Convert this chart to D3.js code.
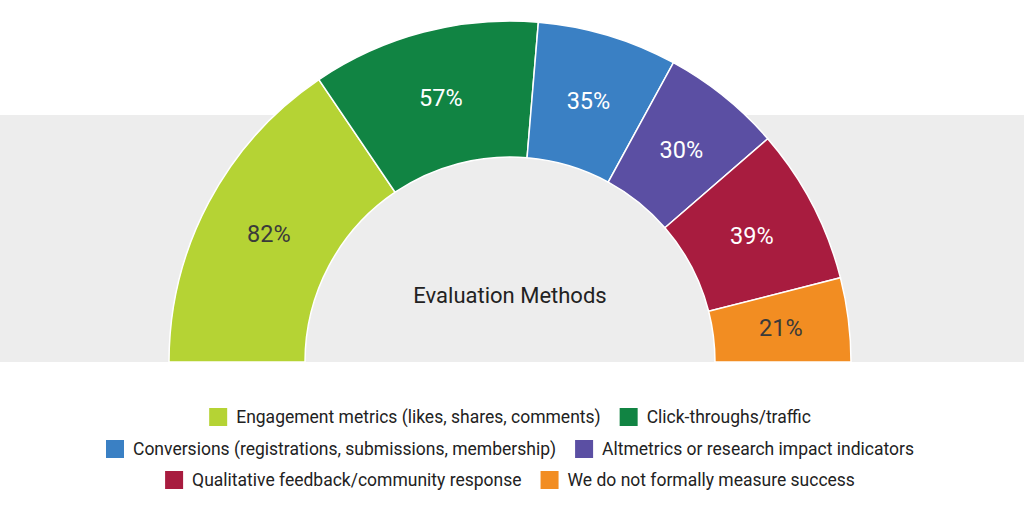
<!DOCTYPE html>
<html>
<head>
<meta charset="utf-8">
<script src="https://cdn.jsdelivr.net/npm/d3@7"></script>
<style>
  body { margin: 0; background: #fff; }
  svg { display: block; font-family: Roboto, sans-serif; }
</style>
</head>
<body>
<div id="chart"></div>
<script>
/* Data */
const methods = [
  "Engagement metrics (likes, shares, comments)",
  "Click-throughs/traffic",
  "Conversions (registrations, submissions, membership)",
  "Altmetrics or research impact indicators",
  "Qualitative feedback/community response",
  "We do not formally measure success"
];
const percents = [82, 57, 35, 30, 39, 21];
const colors = ["#b5d334", "#118443", "#3a80c4", "#5b4fa3", "#a81c3f", "#f28d22"];
const labelColors = ["#3a3a3a", "#fff", "#fff", "#fff", "#fff", "#3a3a3a"];
const centerTitle = "Evaluation Methods";

const width = 1024, height = 505;
const cx = 510, cy = 362;
const outerR = 341, innerR = 205;

const svg = d3.select("#chart")
    .append("svg")
    .attr("width", width)
    .attr("height", height)
    .attr("viewBox", [0, 0, width, height]);

/* grey band behind the gauge */
svg.append("rect")
    .attr("x", 0).attr("y", 115)
    .attr("width", width).attr("height", cy - 115)
    .attr("fill", "#ededed");

const data = methods.map((m, i) => ({method: m, value: percents[i], i}));

const pie = d3.pie()
    .sort(null)
    .value(d => d.value)
    .startAngle(-Math.PI / 2)
    .endAngle(Math.PI / 2);

const arc = d3.arc()
    .innerRadius(innerR)
    .outerRadius(outerR);

const g = svg.append("g")
    .attr("transform", `translate(${cx},${cy})`);

const arcs = pie(data);

g.selectAll("path")
    .data(arcs)
    .join("path")
    .attr("d", arc)
    .attr("fill", d => colors[d.data.i])
    .attr("stroke", "#fff")
    .attr("stroke-width", 1.5);

g.selectAll("text.val")
    .data(arcs)
    .join("text")
    .attr("class", "val")
    .attr("transform", d => `translate(${arc.centroid(d)})`)
    .attr("text-anchor", "middle")
    .attr("dy", "0.35em")
    .attr("fill", d => labelColors[d.data.i])
    .style("font-size", "23.5px")
    .text(d => d.data.value + "%");

g.append("text")
    .attr("x", 0).attr("y", -67)
    .attr("text-anchor", "middle")
    .attr("dy", "0.35em")
    .attr("fill", "#222")
    .style("font-size", "22px")
    .text(centerTitle);

/* Legend: three centred rows of two items */
const rows = [[0, 1], [2, 3], [4, 5]];
const rowY = [417, 449, 480];
const sw = 18, swGap = 9, itemGap = 19;

const legend = svg.append("g").attr("class", "legend");

rows.forEach((row, r) => {
    const rowG = legend.append("g");
    let x = 0;
    row.forEach((idx, k) => {
        const item = rowG.append("g").attr("transform", `translate(${x},0)`);
        item.append("rect")
            .attr("x", 0).attr("y", -sw / 2)
            .attr("width", sw).attr("height", sw)
            .attr("fill", colors[idx]);
        const t = item.append("text")
            .attr("x", sw + swGap)
            .attr("dy", "0.35em")
            .attr("fill", "#222")
            .style("font-size", "17.5px")
            .text(methods[idx]);
        x += sw + swGap + t.node().getComputedTextLength() + (k < row.length - 1 ? itemGap : 0);
    });
    rowG.attr("transform", `translate(${(width - x) / 2 - 2},${rowY[r]})`);
});
</script>
</body>
</html>
